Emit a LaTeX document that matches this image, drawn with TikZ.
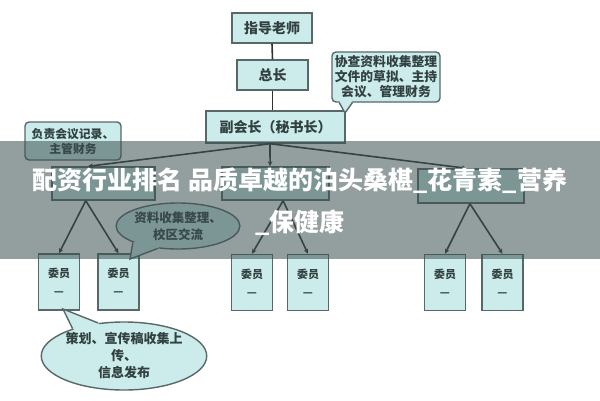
\documentclass[tikz,border=0pt]{standalone}
\usepackage{fontspec}
\setmainfont{Noto Sans CJK SC}
\usetikzlibrary{arrows.meta,shapes.geometric,calc}
\definecolor{boxfill}{RGB}{204,236,236}
\definecolor{boxline}{RGB}{88,104,104}
\definecolor{txtc}{RGB}{50,64,64}
\definecolor{linec}{RGB}{45,52,52}
\definecolor{bandc}{RGB}{60,80,80}
\tikzset{
  rolebox/.style={draw=boxline, fill=boxfill, line width=1.4pt, inner sep=0pt,
    font=\fontsize{14}{15}\selectfont\bfseries, text=txtc, align=center},
  notebox/.style={rolebox, rounded corners=4pt, font=\fontsize{12.8}{15}\selectfont\bfseries},
  noteell/.style={rolebox, ellipse, font=\fontsize{12.5}{17}\selectfont\bfseries},
  memberbox/.style={rolebox, minimum width=41pt, minimum height=56pt,
    font=\fontsize{11}{18}\selectfont\bfseries},
  conn/.style={draw=linec, line width=1.6pt},
  connarrow/.style={conn, -{Stealth[length=5pt,width=4.5pt]}},
  tailline/.style={draw=boxline, line width=1.4pt},
}
\begin{document}
\begin{tikzpicture}[x=1pt,y=-1pt]
\useasboundingbox (0,0) rectangle (600,400);
\fill[white] (0,0) rectangle (600,400);

% top chain
\node[rolebox, minimum width=80pt, minimum height=30pt] (guide) at (272,28) {指导老师};
\node[rolebox, minimum width=71pt, minimum height=30pt] (zong) at (272.5,75) {总长};
\node[rolebox, minimum width=139pt, minimum height=32pt] (fu) at (275.5,127) {副会长（秘书长）};
\draw[conn] (guide.south) -- (zong.north);
\draw[conn] (zong.south) -- (fu.north -| zong.south);

% top-right callout
\node[notebox, minimum width=108pt, minimum height=50pt] (n1) at (386,77)
  {协查资料收集整理\\文件的草拟、主持\\会议、管理财务};
\coordinate (n1tip) at (345,113);
\fill[boxfill] ($(n1.south west)+(8,-2)$) -- (n1tip) -- ($(n1.south west)+(21,-2)$) -- cycle;
\draw[tailline] ($(n1.south west)+(8,0)$) -- (n1tip) -- ($(n1.south west)+(21,0)$);

% left callout
\node[notebox, minimum width=96pt, minimum height=38pt, font=\fontsize{11.8}{15}\selectfont\bfseries] (n2) at (73,141)
  {负责会议记录、\\主管财务};

% second level
\node[rolebox, minimum width=103pt, minimum height=33pt] (L) at (103.5,183.5) {};
\node[rolebox, minimum width=107pt, minimum height=33pt] (M) at (275.5,183.5) {};
\node[rolebox, minimum width=106pt, minimum height=34pt] (R) at (471,186) {};
\coordinate (fuB) at ($(fu.south)+(-5.5,0)$);
\draw[connarrow] (fuB) -- ($(L.north west)!0.35!(L.north east)$);
\draw[connarrow] (fuB) -- ($(M.north west)!0.45!(M.north east)$);
\draw[connarrow] (fuB) -- ($(R.north west)!0.46!(R.north east)$);

% members
\node[memberbox] (b1) at (59,282) {委员\\—};
\node[memberbox] (b2) at (118.5,282) {委员\\—};
\node[memberbox] (b3) at (252,282.5) {委员\\—};
\node[memberbox] (b4) at (308,282.5) {委员\\—};
\node[memberbox] (b5) at (445,282.5) {委员\\—};
\node[memberbox] (b6) at (502.5,282.5) {委员\\—};

\coordinate (LB) at ($(L.south west)!0.33!(L.south east)$);
\coordinate (MB) at ($(M.south west)!0.57!(M.south east)$);
\coordinate (RB) at ($(R.south west)!0.49!(R.south east)$);
\draw[connarrow] (LB) -- (b1.north);
\draw[connarrow] (LB) -- (b2.north);
\draw[connarrow] (MB) -- (b3.north);
\draw[connarrow] (MB) -- (b4.north);
\draw[connarrow] (RB) -- (b5.north);
\draw[connarrow] (RB) -- (b6.north);

% middle ellipse callout
\node[noteell, minimum width=116pt, minimum height=46pt] (e1) at (178,226) {资料收集整理、\\校区交流};
\coordinate (e1tip) at (130,259);
\fill[boxfill] ($(e1.center)!0.85!(e1.200)$) -- (e1.200) -- (e1tip) -- (e1.228) -- ($(e1.center)!0.85!(e1.228)$) -- cycle;
\draw[tailline] (e1.200) -- (e1tip) -- (e1.228);

% bottom ellipse callout
\node[noteell, minimum width=152pt, minimum height=68pt, font=\fontsize{13}{17}\selectfont\bfseries] (e2) at (124,356)
  {策划、宣传稿收集上\\传、\\信息发布};
\coordinate (e2tip) at (63,309);
\fill[boxfill] ($(e2.center)!0.85!(e2.152)$) -- (e2.152) -- (e2tip) -- (e2.128) -- ($(e2.center)!0.85!(e2.128)$) -- cycle;
\draw[tailline] (e2.152) -- (e2tip) -- (e2.128);

% overlay band and title
\fill[bandc, opacity=0.55] (0,141) rectangle (600,259);
\node[font=\fontsize{25}{42}\selectfont\bfseries, text=white, align=center, inner sep=0pt] (title) at (300,202)
  {配资行业排名 品质卓越的泊头桑椹\_花青素\_营养\\\_保健康};
\end{tikzpicture}
\end{document}
